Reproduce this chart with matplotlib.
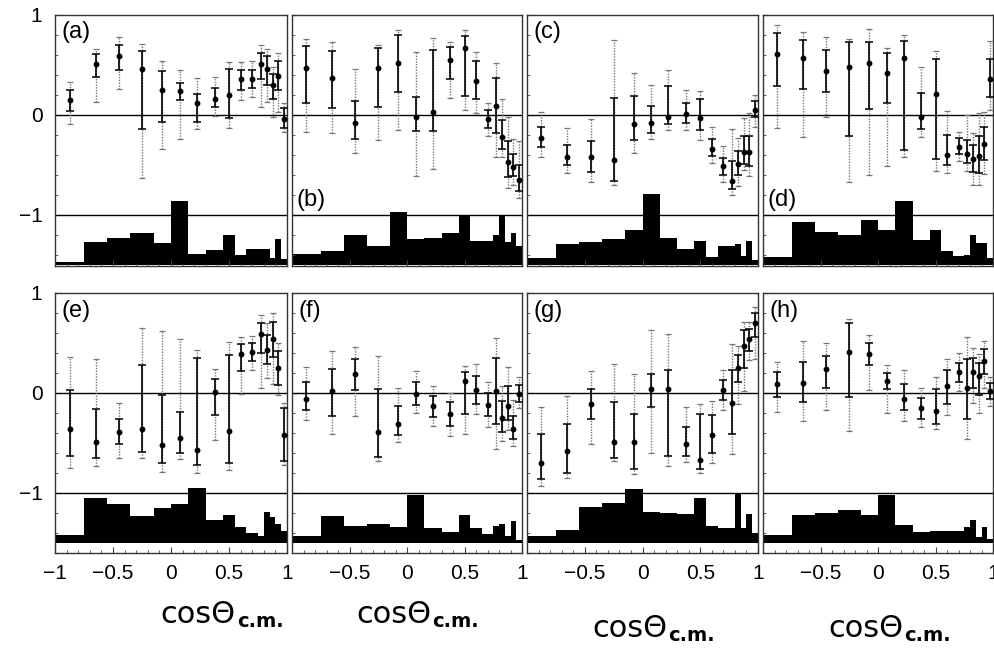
import matplotlib
matplotlib.use("Agg")
import matplotlib.pyplot as plt
import numpy as np
from matplotlib.ticker import FixedLocator, MultipleLocator, NullFormatter

plt.rcParams["font.family"] = ["Liberation Sans", "DejaVu Sans"]

# angular bins (same in every panel)
x_pts = [-0.875, -0.65, -0.45, -0.25, -0.075, 0.075, 0.225, 0.375,
         0.5, 0.6, 0.7, 0.775, 0.825, 0.875, 0.925, 0.975]
hist_edges = [-1, -0.75, -0.55, -0.35, -0.15, 0, 0.15, 0.3, 0.45,
              0.55, 0.65, 0.75, 0.8, 0.85, 0.9, 0.95, 1]
hist_base = -1.5

# (a)
val_a = [0.149, 0.507, 0.587, 0.458, 0.249, 0.239, 0.116, 0.162,
         0.196, 0.358, 0.358, 0.514, 0.464, 0.305, 0.388, -0.04]
in_hi_a = [0.249, 0.607, 0.703, 0.64, 0.441, 0.322, 0.206, 0.272,
           0.464, 0.448, 0.448, 0.624, 0.59, 0.408, 0.537, 0.07]
in_lo_a = [0.043, 0.381, 0.448, -0.139, -0.073, 0.149, -0.073, 0.076,
           -0.027, 0.255, 0.275, 0.365, 0.305, 0.159, 0.249, -0.13]
out_hi_a = [0.332, 0.663, 0.78, 0.713, 0.54, 0.455, 0.375, 0.381,
            0.531, 0.531, 0.537, 0.703, 0.663, 0.481, 0.62, 0.12]
out_lo_a = [-0.09, 0.133, 0.265, -0.63, -0.342, -0.242, -0.143, -0.01,
            -0.133, 0.149, 0.182, 0.083, 0.133, -0.017, 0.033, -0.17]
hist_a = [-1.466, -1.267, -1.234, -1.177, -1.277, -0.862, -1.393, -1.35,
          -1.204, -1.403, -1.343, -1.343, -1.343, -1.426, -1.237, -1.443]

# (b)
val_b = [0.471, 0.371, -0.083, 0.471, 0.524, -0.017, 0.033, 0.547,
         0.667, 0.338, -0.04, 0.089, -0.216, -0.471, -0.52, -0.653]
in_hi_b = [0.687, 0.637, 0.143, 0.67, 0.801, 0.182, 0.653, 0.68,
           0.786, 0.537, 0.05, 0.371, -0.05, -0.259, -0.388, -0.498]
in_lo_b = [0.116, 0.073, -0.242, 0.083, 0.232, -0.159, -0.159, 0.365,
           0.189, 0.156, -0.126, -0.176, -0.338, -0.624, -0.607, -0.756]
out_hi_b = [0.763, 0.73, 0.464, 0.703, 0.851, 0.63, 0.769, 0.73,
            0.851, 0.63, 0.123, 0.521, 0.156, -0.023, -0.242, -0.259]
out_lo_b = [-0.166, -0.182, -0.381, -0.249, -0.149, -0.607, -0.541, 0.166,
            0.05, 0.017, -0.209, -0.415, -0.415, -0.73, -0.697, -0.829]
hist_b = [-1.393, -1.36, -1.204, -1.31, -0.972, -1.237, -1.227, -1.184,
          -0.995, -1.26, -1.26, -1.204, -0.995, -1.27, -1.184, -1.31]

# (c)
val_c = [-0.232, -0.418, -0.418, -0.454, -0.093, -0.083, -0.017, 0.007,
         -0.033, -0.338, -0.514, -0.657, -0.487, -0.371, -0.371, 0.05]
in_hi_c = [-0.123, -0.299, -0.259, 0.172, 0.189, 0.09, 0.289, 0.123,
           0.159, -0.242, -0.431, -0.458, -0.358, -0.209, -0.209, 0.143]
in_lo_c = [-0.322, -0.498, -0.57, -0.663, -0.249, -0.182, -0.093, -0.083,
           -0.149, -0.408, -0.597, -0.74, -0.604, -0.487, -0.507, -0.023]
out_hi_c = [0.033, -0.126, -0.04, 0.746, 0.421, 0.299, 0.448, 0.249,
            0.242, -0.123, -0.308, -0.143, -0.226, -0.033, 0.017, 0.199]
out_lo_c = [-0.415, -0.58, -0.67, -0.697, -0.381, -0.242, -0.149, -0.149,
            -0.249, -0.481, -0.673, -0.796, -0.707, -0.554, -0.607, -0.116]
hist_c = [-1.433, -1.294, -1.27, -1.237, -1.151, -0.786, -1.234, -1.343,
          -1.26, -1.42, -1.31, -1.31, -1.294, -1.41, -1.26, -1.453]

# (d)
val_d = [0.607, 0.571, 0.441, 0.481, 0.524, 0.421, 0.57, -0.017,
         0.209, -0.398, -0.315, -0.388, -0.438, -0.405, -0.289, 0.358]
in_hi_d = [0.822, 0.746, 0.653, 0.73, 0.73, 0.62, 0.74, 0.216,
           0.557, -0.199, -0.232, -0.249, -0.299, -0.209, -0.123, 0.557]
in_lo_d = [0.292, 0.265, 0.232, -0.209, 0.06, 0.123, -0.348, -0.139,
           -0.438, -0.498, -0.388, -0.481, -0.57, -0.58, -0.454, 0.182]
out_hi_d = [0.895, 0.829, 0.776, 0.763, 0.862, 0.67, 0.796, 0.481,
            0.64, 0.043, -0.166, 0.0, -0.182, 0.017, 0.033, 0.74]
out_lo_d = [-0.126, -0.216, -0.023, -0.673, -0.604, -0.507, -0.415, -0.222,
            -0.557, -0.58, -0.458, -0.564, -0.697, -0.697, -0.59, 0.05]
hist_d = [-1.42, -1.071, -1.171, -1.201, -1.045, -1.151, -0.862, -1.25,
          -1.151, -1.36, -1.41, -1.4, -1.201, -1.277, -1.277, -1.433]

# (e)
val_e = [-0.355, -0.488, -0.388, -0.355, -0.521, -0.448, -0.57, 0.01,
         -0.375, 0.391, 0.408, 0.587, 0.431, 0.54, 0.25, -0.42]
in_hi_e = [0.033, -0.159, -0.255, 0.282, -0.017, -0.189, 0.355, 0.143,
           0.381, 0.487, 0.504, 0.697, 0.58, 0.713, 0.42, -0.15]
in_lo_e = [-0.63, -0.653, -0.514, -0.587, -0.697, -0.6, -0.723, -0.216,
           -0.703, 0.216, 0.325, 0.398, 0.292, 0.358, 0.08, -0.68]
out_hi_e = [0.365, 0.338, -0.1, 0.653, 0.62, 0.54, 0.431, 0.239,
            0.514, 0.564, 0.57, 0.779, 0.697, 0.796, 0.5, -0.1]
out_lo_e = [-0.753, -0.73, -0.653, -0.653, -0.786, -0.66, -0.796, -0.471,
            -0.769, -0.007, 0.226, 0.05, 0.149, 0.093, -0.02, -0.72]
hist_e = [-1.42, -1.045, -1.111, -1.234, -1.151, -1.111, -0.945, -1.267,
          -1.221, -1.343, -1.4, -1.426, -1.194, -1.244, -1.31, -1.376]

# (f)
val_f = [-0.056, 0.017, 0.189, -0.388, -0.305, -0.007, -0.133, -0.209,
         0.123, 0.027, -0.116, 0.023, -0.249, -0.126, -0.358, -0.007]
in_hi_f = [0.109, 0.239, 0.342, 0.043, -0.126, 0.106, -0.027, -0.093,
           0.206, 0.166, 0.0, 0.355, -0.083, 0.066, -0.226, 0.083]
in_lo_f = [-0.173, -0.226, 0.033, -0.637, -0.415, -0.116, -0.242, -0.332,
           -0.209, -0.106, -0.226, -0.308, -0.388, -0.265, -0.464, -0.093]
out_hi_f = [0.265, 0.421, 0.464, 0.371, 0.05, 0.216, 0.073, 0.0,
            0.275, 0.288, 0.106, 0.554, 0.073, 0.265, -0.073, 0.156]
out_lo_f = [-0.265, -0.408, -0.232, -0.68, -0.488, -0.199, -0.332, -0.431,
            -0.408, -0.209, -0.342, -0.564, -0.481, -0.365, -0.531, -0.149]
hist_f = [-1.426, -1.227, -1.327, -1.31, -1.337, -1.022, -1.353, -1.393,
          -1.217, -1.353, -1.41, -1.327, -1.31, -1.426, -1.284, -1.469]

# (g)
val_g = [-0.697, -0.584, -0.106, -0.487, -0.487, 0.04, 0.04, -0.508,
         -0.673, -0.421, 0.033, -0.1, 0.255, 0.471, 0.541, 0.697]
in_hi_g = [-0.408, -0.305, 0.043, -0.09, -0.206, 0.192, 0.232, -0.338,
           -0.206, -0.216, 0.133, 0.232, 0.381, 0.63, 0.64, 0.803]
in_lo_g = [-0.862, -0.796, -0.255, -0.647, -0.756, -0.139, -0.634, -0.63,
           -0.756, -0.597, -0.073, -0.408, 0.106, 0.249, 0.425, 0.558]
out_hi_g = [-0.143, -0.033, 0.222, 0.292, 0.192, 0.63, 0.587, -0.143,
            -0.106, -0.083, 0.232, 0.487, 0.474, 0.713, 0.713, 0.862]
out_lo_g = [-0.929, -0.852, -0.514, -0.68, -0.813, -0.597, -0.73, -0.687,
            -0.796, -0.697, -0.166, -0.607, -0.106, 0.017, 0.332, 0.338]
hist_g = [-1.426, -1.367, -1.144, -1.101, -0.962, -1.187, -1.201, -1.211,
          -1.045, -1.333, -1.353, -1.353, -0.995, -1.353, -1.211, -1.4]

# (h)
val_h = [0.093, 0.1, 0.239, 0.415, 0.391, 0.116, -0.06, -0.149,
         -0.176, 0.066, 0.206, 0.05, 0.206, 0.166, 0.325, 0.017]
in_hi_h = [0.209, 0.308, 0.371, 0.703, 0.497, 0.199, 0.093, -0.05,
           0.043, 0.232, 0.305, 0.342, 0.355, 0.305, 0.441, 0.1]
in_lo_h = [-0.04, -0.09, 0.05, -0.043, 0.282, 0.04, -0.173, -0.259,
           -0.305, -0.109, 0.106, -0.259, 0.05, -0.017, 0.189, -0.06]
out_hi_h = [0.308, 0.52, 0.497, 0.74, 0.58, 0.282, 0.226, 0.05,
            0.156, 0.338, 0.398, 0.564, 0.448, 0.391, 0.524, 0.156]
out_lo_h = [-0.192, -0.282, -0.166, -0.381, 0.033, -0.199, -0.282, -0.342,
            -0.358, -0.222, 0.017, -0.458, -0.1, -0.199, 0.05, -0.133]
hist_h = [-1.42, -1.217, -1.204, -1.171, -1.221, -1.022, -1.32, -1.386,
          -1.376, -1.376, -1.376, -1.343, -1.267, -1.436, -1.343, -1.459]

# tick labels along the bottom
xticks_first = [-1, -0.5, 0, 0.5, 1]
xlabels_first = ["\u22121", "\u22120.5", "0", "0.5", "1"]
xticks_other = [-0.5, 0, 0.5, 1]
xlabels_other = ["\u22120.5", "0", "0.5", "1"]
yticks = [-1, 0, 1]
ylabels = ["\u22121", "0", "1"]

panels = [
    ("(a)", val_a, in_lo_a, in_hi_a, out_lo_a, out_hi_a, hist_a),
    ("(b)", val_b, in_lo_b, in_hi_b, out_lo_b, out_hi_b, hist_b),
    ("(c)", val_c, in_lo_c, in_hi_c, out_lo_c, out_hi_c, hist_c),
    ("(d)", val_d, in_lo_d, in_hi_d, out_lo_d, out_hi_d, hist_d),
    ("(e)", val_e, in_lo_e, in_hi_e, out_lo_e, out_hi_e, hist_e),
    ("(f)", val_f, in_lo_f, in_hi_f, out_lo_f, out_hi_f, hist_f),
    ("(g)", val_g, in_lo_g, in_hi_g, out_lo_g, out_hi_g, hist_g),
    ("(h)", val_h, in_lo_h, in_hi_h, out_lo_h, out_hi_h, hist_h),
]

fig = plt.figure(figsize=(9.94, 6.52), dpi=100)

col_px = [(55, 287), (292, 522), (527, 758), (763, 993)]
row_px = [(15, 266), (293, 553)]
row_ylim = [(-1.51, 1.0), (-1.6, 1.0)]
W, H = 994, 652

x = np.array(x_pts)
for i, (label, val, in_lo, in_hi, out_lo, out_hi, hist) in enumerate(panels):
    r, c = divmod(i, 4)
    x0, x1 = col_px[c]
    y0, y1 = row_px[r]
    ax = fig.add_axes([x0 / W, 1 - y1 / H, (x1 - x0) / W, (y1 - y0) / H])

    ax.stairs(hist, hist_edges, baseline=hist_base, fill=True, color="black", lw=0)
    ax.axhline(0, color="black", lw=1.0, zorder=2)
    ax.axhline(-1, color="black", lw=1.0, zorder=2)

    # outer (dotted) and inner (solid) error bars
    ax.vlines(x, out_lo, out_hi, colors="#777777", linestyles=(0, (1, 1)), lw=1.0, zorder=3)
    ax.plot(x, out_lo, ls="none", marker="_", ms=4, mew=0.9, color="#777777", zorder=3)
    ax.plot(x, out_hi, ls="none", marker="_", ms=4, mew=0.9, color="#777777", zorder=3)
    ax.vlines(x, in_lo, in_hi, colors="black", lw=1.2, zorder=4)
    ax.plot(x, in_lo, ls="none", marker="_", ms=6, mew=1.1, color="black", zorder=4)
    ax.plot(x, in_hi, ls="none", marker="_", ms=6, mew=1.1, color="black", zorder=4)
    ax.plot(x, val, ls="none", marker="o", ms=3.2, color="black", zorder=5)

    ax.set_xlim(-1, 1)
    ax.set_ylim(*row_ylim[r])

    ax.yaxis.set_major_locator(FixedLocator(yticks))
    ax.yaxis.set_minor_locator(MultipleLocator(0.2))
    ax.xaxis.set_minor_locator(MultipleLocator(0.1))
    ax.tick_params(which="both", direction="in", colors="#444444", labelcolor="black",
                   labelsize=15, top=False, right=False)
    ax.tick_params(which="major", length=4, width=0.8)
    ax.tick_params(which="minor", length=2.5, width=0.6)
    ax.tick_params(axis="x", pad=8)
    ax.tick_params(axis="y", pad=9)

    if c == 0:
        ax.set_yticklabels(ylabels)
        ax.set_xticks(xticks_first)
        ax.set_xticklabels(xlabels_first)
    else:
        ax.yaxis.set_major_formatter(NullFormatter())
        ax.set_xticks(xticks_other)
        ax.set_xticklabels(xlabels_other)
    ax.xaxis.set_minor_locator(MultipleLocator(0.1))
    if r == 0:
        ax.xaxis.set_major_formatter(NullFormatter())

    for s in ax.spines.values():
        s.set_color("#333333")
        s.set_linewidth(1.0)

    if label in ("(b)", "(d)"):
        ax.text(0.02, -0.96, label, transform=ax.get_yaxis_transform(),
                fontsize=17, ha="left", va="bottom")
    else:
        ax.text(0.03, 0.975, label, transform=ax.transAxes,
                fontsize=17, ha="left", va="top")

# axis titles under each column: "cosΘ" followed by a bold "c.m." subscript
lab_split = [236, 431, 667, 903]
lab_base = [623, 623, 637, 637]
for px, py in zip(lab_split, lab_base):
    fig.text(px / W, 1 - py / H, "cos\u0398", fontsize=22, family="DejaVu Sans",
             ha="right", va="baseline")
    fig.text((px + 1) / W, 1 - (py + 4) / H, "c.m.", fontsize=14, family="DejaVu Sans",
             fontweight="bold", ha="left", va="baseline")

fig.savefig("out.png", dpi=100, facecolor="white")
